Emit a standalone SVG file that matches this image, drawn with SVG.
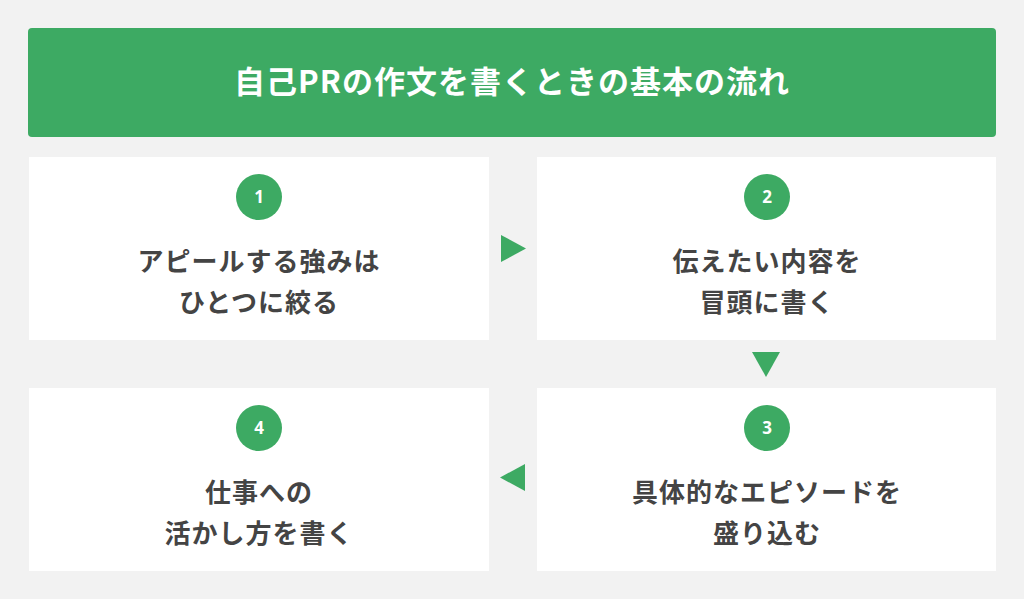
<svg xmlns="http://www.w3.org/2000/svg" width="1024" height="599" viewBox="0 0 1024 599">
<style>
.box{fill:#fff}
.num{fill:#3daa63}
.nt{fill:#fff;font:bold 17px "Noto Sans","Noto Sans CJK JP",sans-serif;text-anchor:middle}
.t{fill:#444;font:bold 26px "Noto Sans CJK JP",sans-serif;text-anchor:middle;letter-spacing:1px}
.arr{fill:#3daa63}
</style>
<rect width="1024" height="599" fill="#f2f2f2"/>
<g id="title">
<rect x="28" y="28" width="968" height="109" rx="4" fill="#3daa63"/>
<text x="512" y="93" fill="#fff" style="font:bold 31px 'Noto Sans CJK JP',sans-serif;text-anchor:middle;letter-spacing:1px">自己PRの作文を書くときの基本の流れ</text>
</g>
<g id="step1">
<rect class="box" x="29" y="157" width="460" height="183"/>
<circle class="num" cx="259" cy="197" r="23"/><text class="nt" x="259" y="203">1</text>
<text class="t" x="259" y="271">アピールする強みは</text>
<text class="t" x="259" y="312">ひとつに絞る</text>
</g>
<g id="step2">
<rect class="box" x="537" y="157" width="459" height="183"/>
<circle class="num" cx="767" cy="197" r="23"/><text class="nt" x="767" y="203">2</text>
<text class="t" x="767" y="271">伝えたい内容を</text>
<text class="t" x="767" y="312">冒頭に書く</text>
</g>
<g id="step3">
<rect class="box" x="537" y="388" width="459" height="183"/>
<circle class="num" cx="767" cy="428" r="23"/><text class="nt" x="767" y="434">3</text>
<text class="t" x="767" y="502">具体的なエピソードを</text>
<text class="t" x="767" y="543">盛り込む</text>
</g>
<g id="step4">
<rect class="box" x="29" y="388" width="460" height="183"/>
<circle class="num" cx="259" cy="428" r="23"/><text class="nt" x="259" y="434">4</text>
<text class="t" x="259" y="502">仕事への</text>
<text class="t" x="259" y="543">活かし方を書く</text>
</g>
<g id="connectors">
<polygon class="arr" points="501,235 526,248.5 501,262"/>
<polygon class="arr" points="752,352 780,352 766,377"/>
<polygon class="arr" points="525,464 525,491 500,477.5"/>
</g>
</svg>
